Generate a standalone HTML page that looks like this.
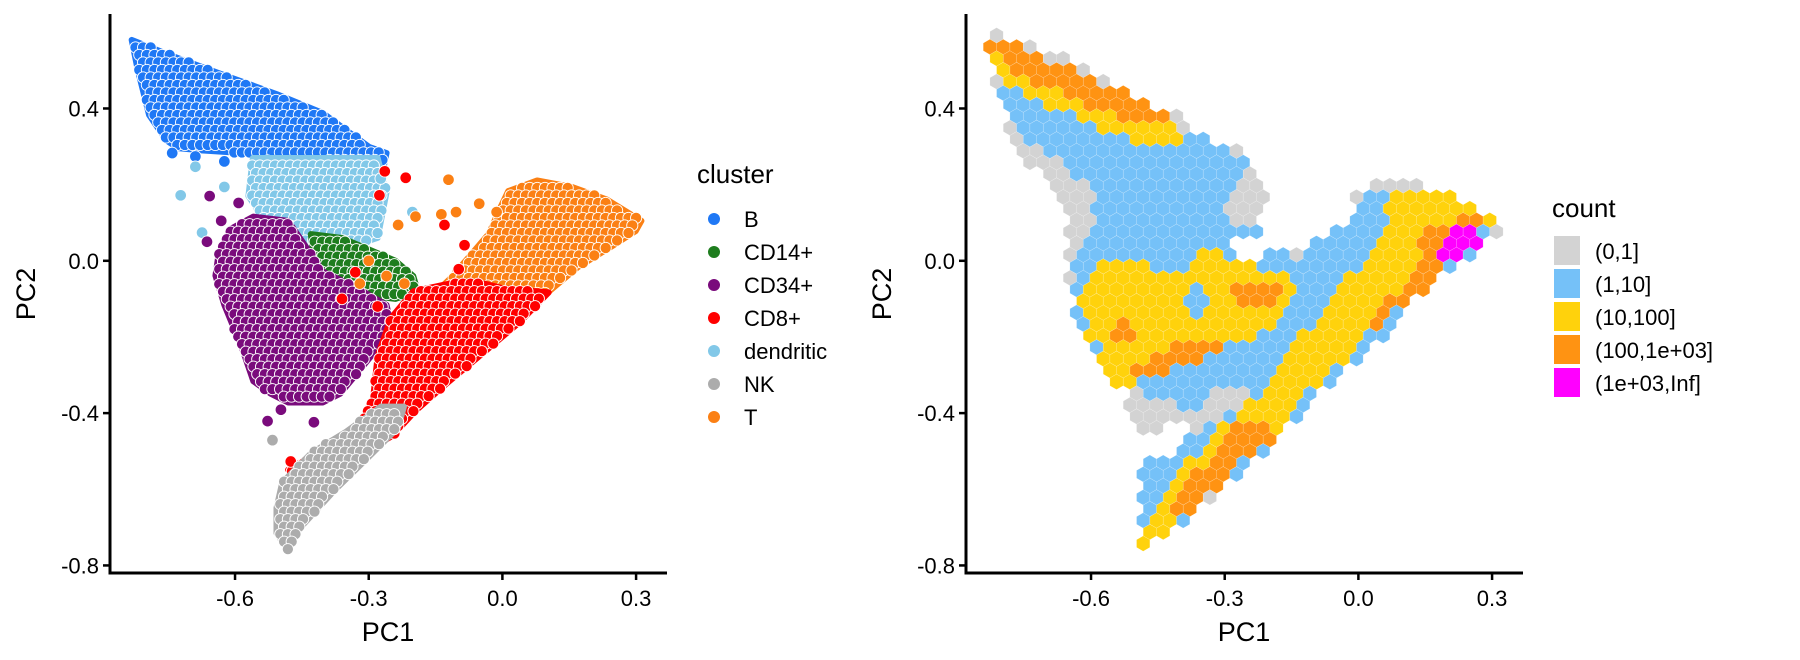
<!DOCTYPE html>
<html><head><meta charset="utf-8"><style>
html,body{margin:0;padding:0;background:#fff;}
svg{display:block;font-family:"Liberation Sans",Arial,sans-serif;}
</style></head><body>
<svg id="chart" width="1800" height="660" viewBox="0 0 1800 660">
<g id="left"></g>
<g id="right"></g>
</svg>
<script>
// ---------- data ----------
const xTicks=[-0.6,-0.3,0.0,0.3];
const xTickLabels=["-0.6","-0.3","0.0","0.3"];
const yTicks=[0.4,0.0,-0.4,-0.8];
const yTickLabels=["0.4","0.0","-0.4","-0.8"];
const clusterNames=["B","CD14+","CD34+","CD8+","dendritic","NK","T"];
const clusterColors=["#1f78f5","#1e7d1e","#7a0b7c","#ff0000","#82c8e8","#acacac","#fb8014"];
// cluster regions (PC1,PC2)
const regionB=[[-0.832,0.58],[-0.741,0.538],[-0.611,0.482],[-0.507,0.438],[-0.403,0.388],[-0.299,0.299],[-0.26,0.283],[-0.267,0.244],[-0.325,0.255],[-0.403,0.266],[-0.507,0.272],[-0.611,0.285],[-0.676,0.29],[-0.728,0.296],[-0.754,0.316],[-0.793,0.383],[-0.819,0.505]];
const regionDendritic=[[-0.56,0.27],[-0.28,0.27],[-0.26,0.18],[-0.28,0.06],[-0.36,0.03],[-0.46,0.05],[-0.53,0.1],[-0.57,0.17]];
const regionCD34=[[-0.637,0.017],[-0.611,0.083],[-0.559,0.116],[-0.481,0.105],[-0.455,0.061],[-0.403,-0.028],[-0.325,-0.072],[-0.26,-0.116],[-0.247,-0.183],[-0.286,-0.238],[-0.325,-0.294],[-0.364,-0.349],[-0.403,-0.372],[-0.481,-0.372],[-0.52,-0.349],[-0.559,-0.316],[-0.585,-0.227],[-0.624,-0.116],[-0.644,-0.039]];
const regionCD14=[[-0.43,0.07],[-0.36,0.06],[-0.3,0.03],[-0.24,0.0],[-0.2,-0.04],[-0.19,-0.08],[-0.24,-0.1],[-0.31,-0.09],[-0.38,-0.07],[-0.42,-0.02]];
const regionT=[[0.013,0.183],[0.078,0.211],[0.156,0.194],[0.234,0.161],[0.312,0.105],[0.299,0.078],[0.247,0.039],[0.169,-0.017],[0.091,-0.094],[0.013,-0.172],[-0.026,-0.216],[-0.091,-0.238],[-0.13,-0.205],[-0.169,-0.15],[-0.16,-0.094],[-0.12,-0.05],[-0.07,0.017],[-0.03,0.072],[-0.005,0.139]];
const regionCD8=[[-0.481,-0.549],[-0.403,-0.494],[-0.325,-0.438],[-0.29,-0.36],[-0.28,-0.25],[-0.25,-0.15],[-0.2,-0.08],[-0.12,-0.06],[-0.04,-0.06],[0,-0.072],[0.104,-0.083],[0.039,-0.161],[-0.039,-0.238],[-0.13,-0.327],[-0.195,-0.394],[-0.247,-0.46],[-0.299,-0.494],[-0.377,-0.527],[-0.455,-0.571]];
const regionNK=[[-0.494,-0.582],[-0.429,-0.505],[-0.351,-0.449],[-0.273,-0.383],[-0.221,-0.383],[-0.234,-0.438],[-0.299,-0.514],[-0.377,-0.603],[-0.455,-0.703],[-0.481,-0.76],[-0.507,-0.715],[-0.507,-0.649]];
// individual outlying cells
const outB=[[-0.741,0.283],[-0.689,0.274],[-0.624,0.261],[-0.527,0.263],[-0.377,0.255],[-0.312,0.25]];
const outDendritic=[[-0.722,0.172],[-0.689,0.247],[-0.624,0.194],[-0.674,0.074],[-0.54,0.028],[-0.546,-0.157],[-0.202,0.128],[-0.273,0.216]];
const outCD34=[[-0.657,0.17],[-0.631,0.105],[-0.592,0.152],[-0.663,0.05],[-0.527,-0.421],[-0.497,-0.391],[-0.423,-0.424]];
const outCD8=[[-0.217,0.218],[-0.264,0.235],[-0.276,0.172],[-0.13,0.094],[-0.085,0.041],[-0.098,-0.022],[-0.475,-0.527],[-0.462,-0.56],[-0.33,-0.03],[-0.28,-0.12],[-0.36,-0.1]];
const outT=[[-0.121,0.213],[-0.137,0.122],[-0.104,0.128],[-0.052,0.15],[-0.234,0.094],[-0.195,0.116],[-0.013,0.128],[-0.3,0.0],[-0.26,-0.04],[-0.22,-0.06],[-0.32,-0.06]];
const outNK=[[-0.516,-0.471]];
// hexbin count classes
const countLabels=["(0,1]","(1,10]","(10,100]","(100,1e+03]","(1e+03,Inf]"];
const countColors=["#d3d3d3","#75c1f8","#ffd20c","#ff9312","#ff00ff"];
const hexAll=[[-0.816,0.60],[-0.73,0.57],[-0.66,0.54],[-0.56,0.47],[-0.50,0.43],[-0.42,0.39],[-0.35,0.335],[-0.25,0.28],[-0.23,0.22],[-0.13,0.21],[-0.06,0.177],[0.015,0.188],[0.06,0.22],[0.16,0.19],[0.23,0.166],[0.28,0.132],[0.33,0.10],[0.30,0.064],[0.255,0.02],[0.195,-0.037],[0.135,-0.094],[0.06,-0.184],[0.0,-0.25],[-0.06,-0.32],[-0.13,-0.41],[-0.18,-0.465],[-0.24,-0.52],[-0.30,-0.59],[-0.37,-0.657],[-0.43,-0.713],[-0.485,-0.78],[-0.50,-0.69],[-0.49,-0.61],[-0.47,-0.53],[-0.42,-0.50],[-0.37,-0.455],[-0.42,-0.42],[-0.49,-0.477],[-0.515,-0.432],[-0.515,-0.353],[-0.56,-0.31],[-0.61,-0.23],[-0.635,-0.14],[-0.65,-0.05],[-0.66,0.064],[-0.66,0.132],[-0.69,0.20],[-0.73,0.245],[-0.77,0.30],[-0.79,0.357],[-0.816,0.447],[-0.834,0.56]];
const hex1to10=[[-0.81,0.59],[-0.73,0.54],[-0.66,0.49],[-0.59,0.46],[-0.49,0.39],[-0.395,0.335],[-0.30,0.31],[-0.25,0.267],[-0.25,0.21],[-0.30,0.154],[-0.30,0.11],[-0.226,0.087],[-0.18,0.064],[-0.154,-0.003],[-0.13,0.02],[-0.082,0.064],[-0.01,0.11],[0.026,0.188],[0.135,0.188],[0.18,0.166],[0.23,0.16],[0.30,0.07],[0.255,0.02],[0.135,-0.094],[0.06,-0.195],[-0.06,-0.32],[-0.18,-0.465],[-0.30,-0.59],[-0.37,-0.645],[-0.43,-0.747],[-0.49,-0.713],[-0.50,-0.668],[-0.48,-0.533],[-0.395,-0.488],[-0.335,-0.42],[-0.274,-0.386],[-0.226,-0.364],[-0.30,-0.32],[-0.347,-0.386],[-0.395,-0.386],[-0.467,-0.364],[-0.54,-0.32],[-0.575,-0.296],[-0.61,-0.24],[-0.63,-0.16],[-0.64,-0.082],[-0.64,-0.026],[-0.63,0.042],[-0.59,0.12],[-0.6,0.177],[-0.63,0.222],[-0.67,0.278],[-0.72,0.30],[-0.77,0.335],[-0.786,0.368],[-0.804,0.436],[-0.81,0.49]];
const hex10to100A=[[-0.82,0.543],[-0.78,0.526],[-0.708,0.487],[-0.623,0.453],[-0.55,0.425],[-0.49,0.39],[-0.42,0.357],[-0.37,0.33],[-0.395,0.30],[-0.443,0.306],[-0.515,0.323],[-0.575,0.34],[-0.635,0.374],[-0.695,0.408],[-0.75,0.442],[-0.79,0.475],[-0.816,0.51]];
const hex10to100B=[[-0.61,-0.026],[-0.563,0.008],[-0.49,0.002],[-0.467,-0.026],[-0.395,-0.037],[-0.36,0.02],[-0.30,0.02],[-0.25,-0.003],[-0.20,-0.026],[-0.154,-0.048],[-0.142,-0.094],[-0.18,-0.16],[-0.226,-0.206],[-0.30,-0.217],[-0.347,-0.24],[-0.42,-0.285],[-0.49,-0.307],[-0.54,-0.336],[-0.563,-0.296],[-0.575,-0.25],[-0.605,-0.195],[-0.623,-0.139],[-0.623,-0.082]];
const hex10to100C=[[0.069,0.166],[0.135,0.177],[0.207,0.171],[0.255,0.143],[0.315,0.11],[0.255,0.087],[0.23,0.042],[0.183,-0.003],[0.135,-0.048],[0.10,-0.094],[0.063,-0.139],[0.014,-0.184],[-0.022,-0.24],[-0.058,-0.296],[-0.106,-0.341],[-0.154,-0.432],[-0.226,-0.50],[-0.31,-0.567],[-0.383,-0.634],[-0.443,-0.725],[-0.473,-0.775],[-0.49,-0.725],[-0.467,-0.657],[-0.42,-0.567],[-0.347,-0.50],[-0.30,-0.432],[-0.25,-0.386],[-0.20,-0.319],[-0.166,-0.251],[-0.13,-0.195],[-0.082,-0.139],[-0.046,-0.094],[-0.022,-0.037],[0.014,0.008],[0.04,0.053],[0.063,0.11]];
const hex1to10Island=[[-0.383,-0.071],[-0.335,-0.071],[-0.335,-0.139],[-0.383,-0.139]];
const hex100to1kA=[[-0.834,0.566],[-0.762,0.571],[-0.708,0.537],[-0.635,0.498],[-0.563,0.464],[-0.503,0.436],[-0.449,0.402],[-0.425,0.357],[-0.467,0.346],[-0.54,0.38],[-0.61,0.413],[-0.683,0.447],[-0.744,0.481],[-0.79,0.515],[-0.828,0.549]];
const hex100to1kB=[[-0.545,-0.15],[-0.515,-0.144],[-0.49,-0.195],[-0.503,-0.223],[-0.54,-0.217],[-0.551,-0.184]];
const hex100to1kC=[[-0.521,-0.302],[-0.467,-0.251],[-0.395,-0.217],[-0.322,-0.206],[-0.286,-0.217],[-0.322,-0.251],[-0.395,-0.274],[-0.443,-0.296],[-0.49,-0.319]];
const hex100to1kD=[[-0.286,-0.094],[-0.262,-0.054],[-0.19,-0.054],[-0.178,-0.094],[-0.202,-0.116],[-0.274,-0.116]];
const hex100to1kE=[[0.159,0.087],[0.195,0.104],[0.255,0.115],[0.291,0.104],[0.267,0.075],[0.243,0.042],[0.207,-0.003],[0.171,-0.048],[0.135,-0.094],[0.099,-0.116],[0.063,-0.161],[0.038,-0.195],[0.002,-0.195],[0.026,-0.161],[0.063,-0.116],[0.087,-0.082],[0.111,-0.037],[0.135,0.02],[0.147,0.064]];
const hex100to1kF=[[-0.30,-0.432],[-0.25,-0.409],[-0.20,-0.42],[-0.178,-0.454],[-0.214,-0.488],[-0.262,-0.533],[-0.30,-0.578],[-0.347,-0.623],[-0.383,-0.668],[-0.42,-0.69],[-0.42,-0.645],[-0.395,-0.60],[-0.359,-0.555],[-0.322,-0.51]];
const hexOver1k=[[0.171,-0.003],[0.183,0.042],[0.207,0.081],[0.279,0.087],[0.273,0.047],[0.243,0.02],[0.207,-0.003],[0.183,-0.026]];
const hexEmptyA=[[-0.2,0.2],[-0.05,0.2],[0.0,0.12],[-0.1,0.05],[-0.17,0.03],[-0.22,0.08]];
const hexEmptyB=[[-0.30,0.064],[-0.24,0.07],[-0.2,0.04],[-0.22,0.0],[-0.28,0.0]];

// ---------- helpers ----------
const NS="http://www.w3.org/2000/svg";
function mk(tag,attrs,parent){const e=document.createElementNS(NS,tag);for(const k in attrs)e.setAttribute(k,attrs[k]);parent.appendChild(e);return e;}
const sx=v=>502.4+445.6*v;
const sy=v=>260.8-380.8*v;
const ix=p=>(p-502.4)/445.6;
const iy=p=>(260.8-p)/380.8;
function inPoly(x,y,poly){let c=false;for(let i=0,j=poly.length-1;i<poly.length;j=i++){const xi=poly[i][0],yi=poly[i][1],xj=poly[j][0],yj=poly[j][1];if(((yi>y)!==(yj>y))&&(x<(xj-xi)*(y-yi)/(yj-yi)+xi))c=!c;}return c;}

function drawAxes(g,off,name){
  const ax=mk('g',{},g);
  
  
  const yl=mk('line',{x1:110+off,y1:14,x2:110+off,y2:574.5,stroke:'#000','stroke-width':3},ax);
  
  
  const xl=mk('line',{x1:108.5+off,y1:573,x2:667+off,y2:573,stroke:'#000','stroke-width':3},ax);
  
  
  xTicks.forEach((t,i)=>{
    const X=sx(t)+off;
    const tk=mk('line',{x1:X,y1:573,x2:X,y2:580,stroke:'#000','stroke-width':2.5},ax);
    
    
    const tl=mk('text',{x:X,y:606,'text-anchor':'middle','font-size':22,fill:'#000'},ax);
    tl.textContent=xTickLabels[i];
    
    
  });
  yTicks.forEach((t,i)=>{
    const Y=sy(t);
    const tk=mk('line',{x1:103+off,y1:Y,x2:110+off,y2:Y,stroke:'#000','stroke-width':2.5},ax);
    
    
    const tl=mk('text',{x:99+off,y:Y+8,'text-anchor':'end','font-size':22,fill:'#000'},ax);
    tl.textContent=yTickLabels[i];
    
    
  });
  const xt=mk('text',{x:388+off,y:641,'text-anchor':'middle','font-size':27,fill:'#000'},ax);
  xt.textContent='PC1';
  
  
  const yt=mk('text',{x:0,y:0,'text-anchor':'middle','font-size':27,fill:'#000',transform:`translate(${35+off},294) rotate(-90)`},ax);
  yt.textContent='PC2';
  
  
}

// ---------- left scatter ----------
const L=document.getElementById('left');
const regions=[[regionB,0,outB],[regionDendritic,4,outDendritic],[regionCD14,1,[]],[regionCD34,2,outCD34],[regionT,6,outT],[regionCD8,3,outCD8],[regionNK,5,outNK]];
regions.forEach(([poly,ci,outs])=>{
  const g=mk('g',{},L);
  
  
  const col=clusterColors[ci];
  const pts=poly.map(p=>sx(p[0])+','+sy(p[1])).join(' ');
  const pg=mk('polygon',{points:pts,fill:col,stroke:col,'stroke-width':6,'stroke-linejoin':'round'},g);
  
  
  let minX=1e9,maxX=-1e9,minY=1e9,maxY=-1e9;
  poly.forEach(p=>{const X=sx(p[0]),Y=sy(p[1]);minX=Math.min(minX,X);maxX=Math.max(maxX,X);minY=Math.min(minY,Y);maxY=Math.max(maxY,Y);});
  let r=0;
  for(let Y=minY;Y<=maxY;Y+=7.5,r++){
    for(let X=minX+(r%2?3.8:0);X<=maxX;X+=7.6){
      if(inPoly(ix(X),iy(Y),poly)){
        const c=mk('circle',{cx:X,cy:Y,r:5.6,fill:col,stroke:'#fff','stroke-width':0.9},g);
        
        
      }
    }
  }
  outs.forEach(p=>{
    const c=mk('circle',{cx:sx(p[0]),cy:sy(p[1]),r:5.8,fill:col,stroke:'#fff','stroke-width':0.9},g);
    
    
  });
});
drawAxes(L,0,'scatter');
// legend
const lg=mk('g',{},L);


const lt=mk('text',{x:697,y:183,'font-size':26,fill:'#000'},lg);
lt.textContent='cluster';


clusterNames.forEach((n,i)=>{
  const cy=219+i*33;
  const e=mk('g',{},lg);
  
  
  mk('circle',{cx:714,cy:cy,r:6,fill:clusterColors[i]},e);
  const t=mk('text',{x:744,y:cy+8,'font-size':22,fill:'#000'},e);
  t.textContent=n;
});

// ---------- right hexbin ----------
const R=document.getElementById('right');
const OFF=856;
const layers=[[hexAll,0],[hex1to10,1],[hex10to100A,2],[hex10to100B,2],[hex10to100C,2],[hex1to10Island,1],[hex100to1kA,3],[hex100to1kB,3],[hex100to1kC,3],[hex100to1kD,3],[hex100to1kE,3],[hex100to1kF,3],[hexOver1k,4],[hexEmptyA,-1],[hexEmptyB,-1]];
const hg=mk('g',{},R);


const W=13.33,RH=11.55,HR=W/Math.sqrt(3);
const x0=sx(-0.812),y0=sy(0.592);
for(let r=-1;r<50;r++){
  const Y=y0+r*RH;
  for(let c=-3;c<45;c++){
    const X=x0+c*W-((r%2+2)%2?W/2:0);
    const dx=ix(X),dy=iy(Y);
    let cls=-1;
    layers.forEach(([poly,k])=>{if(inPoly(dx,dy,poly))cls=k;});
    if(cls<0)continue;
    let pts=[];
    for(let k=0;k<6;k++){const a=Math.PI/3*k+Math.PI/6;pts.push((X+OFF+HR*Math.cos(a)).toFixed(2)+','+(Y+HR*Math.sin(a)).toFixed(2));}
    const h=mk('polygon',{points:pts.join(' '),fill:countColors[cls],stroke:'#ffffff','stroke-opacity':0.35,'stroke-width':0.5},hg);
    
    
  }
}
drawAxes(R,OFF,'hexbin');
const rg=mk('g',{},R);


const rt=mk('text',{x:1552,y:217,'font-size':26,fill:'#000'},rg);
rt.textContent='count';


countLabels.forEach((n,i)=>{
  const y=236+i*33;
  const e=mk('g',{},rg);
  
  
  mk('rect',{x:1554,y:y,width:26,height:29,fill:countColors[i]},e);
  const t=mk('text',{x:1595,y:y+23,'font-size':22,fill:'#000'},e);
  t.textContent=n;
});
</script>
</body></html>
